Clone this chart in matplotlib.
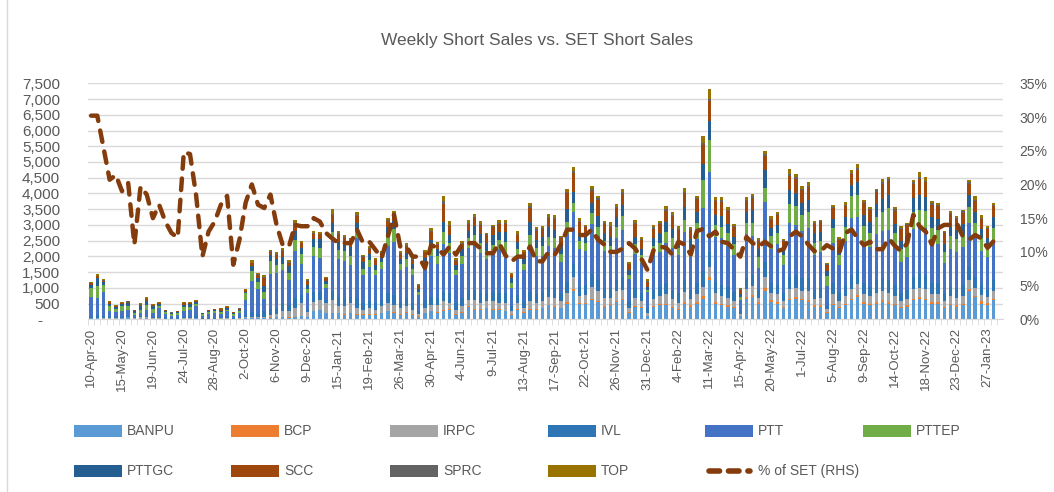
import matplotlib
matplotlib.use("Agg")
import matplotlib.pyplot as plt
import numpy as np
from matplotlib.patches import Rectangle
from matplotlib.lines import Line2D

plt.rcParams['font.family'] = ['Liberation Sans', 'DejaVu Sans']

# x labels shown every 5th week
tick_labels = ['10-Apr-20', '15-May-20', '19-Jun-20', '24-Jul-20', '28-Aug-20', '2-Oct-20',
               '6-Nov-20', '9-Dec-20', '15-Jan-21', '19-Feb-21', '26-Mar-21', '30-Apr-21',
               '4-Jun-21', '9-Jul-21', '13-Aug-21', '17-Sep-21', '22-Oct-21', '26-Nov-21',
               '31-Dec-21', '4-Feb-22', '11-Mar-22', '15-Apr-22', '20-May-22', '1-Jul-22',
               '5-Aug-22', '9-Sep-22', '14-Oct-22', '18-Nov-22', '23-Dec-22', '27-Jan-23']

banpu = [30,30,20,20,20,30,60,20,20,30, 20,20,10,10,10,20,20,30,10,10,
         10,20,20,10,20,30,40,40,30,50, 60,60,50,60,100,60,250,300,200,200,
         200,150,200,150,150,150,150,200,250,200, 150,200,150,80,200,250,200,250,300,150,
         200,400,300,300,350,300,300,250,150,300, 200,300,300,350,450,400,350,500,900,500,
         500,600,550,400,450,550,600,200,400,350, 100,400,450,450,350,300,500,400,500,650,
         1250,500,450,400,350,100,650,700,500,900, 550,500,350,600,650,600,550,400,400,200,
         450,350,450,600,700,500,450,500,550,500, 450,350,400,600,650,600,500,500,350,450,
         400,450,900,700,500,450,600]
bcp = [0,0,0,0,0,0,0,0,0,0, 0,0,0,0,0,0,0,0,0,0,
       0,0,0,0,0,0,0,0,0,10, 10,10,10,10,10,10,10,10,10,10,
       10,10,10,20,10,20,10,10,20,20, 10,20,10,10,10,20,20,30,20,10,
       20,20,20,20,20,20,30,20,10,20, 20,30,20,20,20,30,20,50,50,30,
       30,40,40,30,30,40,40,20,30,30, 10,30,30,40,30,30,60,40,60,80,
       100,50,40,40,30,10,60,60,40,80, 50,50,30,60,50,50,50,40,40,20,
       40,30,40,60,60,50,40,50,60,50, 40,30,40,60,60,50,40,40,30,40,
       40,40,60,50,80,70,50]
irpc = [10,20,20,10,10,10,20,20,40,30, 20,20,10,10,10,20,20,20,10,10,
        15,15,20,10,20,30,40,30,30,80, 100,200,200,300,400,150,300,300,300,400,
        200,250,300,200,150,200,150,200,250,250, 200,200,150,80,150,200,250,300,200,150,
        200,200,300,200,200,250,200,250,100,200, 150,250,200,200,250,250,200,300,400,200,
        250,400,300,250,200,300,300,150,250,200, 100,200,250,300,250,200,300,200,250,300,
        300,300,250,250,200,50,250,300,150,350, 250,250,200,300,300,250,300,200,250,100,
        300,200,250,300,350,250,250,300,300,300, 250,200,200,300,300,300,250,250,200,250,
        250,250,300,250,200,200,250]
ivl = [40,80,60,40,30,40,40,20,40,50, 30,40,20,20,20,40,40,40,20,20,
       30,25,40,20,30,80,150,100,200,200, 200,250,200,300,250,100,300,250,100,300,
       300,250,200,300,200,200,200,200,300,300, 200,250,200,100,250,250,200,300,300,200,
       250,300,300,300,250,300,300,300,150,250, 200,300,300,300,300,300,250,350,400,300,
       300,400,350,300,300,350,400,200,300,250, 150,300,300,350,300,300,400,300,350,500,
       480,350,350,350,300,100,350,350,250,500, 300,300,250,400,400,400,400,300,300,150,
       350,250,350,450,450,350,300,400,400,400, 350,250,300,400,450,450,350,350,250,300,
       300,350,400,350,300,250,350]
ptt = [620,560,760,200,160,190,160,90,100,200, 130,280,120,70,110,170,210,330,80,120,
       150,120,170,80,140,480,1000,800,400,1100, 1100,1050,800,1500,1000,500,1150,1100,400,1600,
       1200,1200,1000,1900,900,1100,900,1000,1500,1700, 1000,1000,900,500,1000,1300,1100,1500,1300,900,
       1100,1350,1450,1300,1100,1200,1400,1300,590,1200, 1000,1400,1200,1150,1300,1300,1000,1500,1650,1200,
       1100,1600,1400,1200,1100,1350,1500,700,1100,950, 500,1100,1100,1300,1350,1200,1500,1050,1400,2000,
       2550,1400,1500,1300,1150,350,1400,1250,700,1900, 1100,1300,900,1700,1600,1500,1600,1100,1150,600,
       1300,900,1400,1800,1700,1300,1250,1450,1500,1600, 1200,1000,1050,1500,1500,1500,1300,1250,950,1200,
       1150,1200,1400,1250,1100,1000,1200]
pttep = [300,380,220,160,100,140,140,60,110,130, 130,60,60,50,50,130,110,80,40,60,
         50,40,60,40,60,200,300,200,200,400, 250,200,220,350,300,150,300,300,100,250,
         300,300,300,250,200,200,150,200,350,400, 200,250,200,100,200,300,250,400,300,150,
         250,300,300,300,250,300,300,350,150,250, 200,400,250,300,300,300,250,400,300,250,
         250,350,300,300,250,350,450,150,300,250, 80,300,300,350,300,250,400,250,500,900,
         1030,400,350,400,350,100,350,400,350,450, 400,350,300,600,600,500,500,400,350,300,
         450,300,450,700,700,500,450,550,600,700, 450,400,400,550,500,550,450,450,350,400,
         400,400,500,450,400,350,450]
pttgc = [90,250,100,60,60,70,90,40,110,140, 80,60,40,40,40,80,80,60,25,40,
         40,40,50,40,40,60,150,150,200,200, 200,200,200,300,200,120,250,300,100,300,
         250,250,300,250,200,200,150,150,250,250, 150,200,150,100,150,200,200,300,250,150,
         200,250,300,300,250,300,250,300,150,250, 200,400,250,300,300,250,250,400,350,250,
         250,300,350,250,300,300,350,150,250,200, 100,250,300,300,300,250,400,300,350,500,
         600,300,350,300,250,80,350,400,250,550, 250,250,200,450,400,400,400,300,300,150,
         300,250,300,350,400,350,350,400,400,400, 300,250,250,450,500,450,350,350,250,300,
         300,350,400,350,300,250,350]
scc = [50,60,50,60,40,40,50,30,50,50, 40,40,20,15,15,50,40,30,15,25,
       30,60,35,20,30,40,100,100,250,100, 120,200,120,200,150,130,150,140,100,250,
       250,170,200,200,170,180,170,150,200,200, 180,200,130,100,170,250,150,600,300,150,
       170,200,250,280,250,250,250,250,110,220, 160,450,300,250,300,350,250,500,600,350,
       250,400,500,300,300,300,350,180,400,280, 150,300,300,350,400,300,450,300,400,600,
       640,450,450,400,300,150,350,400,250,450, 250,300,250,450,450,400,400,300,300,200,
       350,250,350,350,400,400,380,400,500,450, 400,380,350,450,500,450,400,400,350,400,
       350,350,350,350,300,300,350]
sprc = [10,10,10,10,6,5,10,5,10,15, 8,5,5,3,3,10,5,6,2,3,
        3,5,5,4,5,10,20,20,20,20, 20,20,20,30,20,20,30,20,10,50,
        40,20,20,40,20,20,20,20,30,30, 20,30,20,10,20,30,20,80,40,20,
        20,40,40,40,30,30,40,40,10,30, 20,60,40,40,40,40,30,50,50,40,
        30,50,50,30,50,40,50,20,40,30, 20,40,30,50,40,40,50,30,50,60,
        60,50,50,40,40,20,40,50,30,60, 40,40,30,60,60,50,50,30,30,30,
        40,30,50,50,60,40,40,50,60,50, 50,40,30,50,60,50,50,40,30,40,
        40,40,50,40,40,30,40]
top = [40,40,40,30,20,20,20,12,30,50, 25,20,12,10,12,25,20,20,10,12,
       12,20,20,10,15,25,70,47,65,49, 70,72,50,100,70,40,70,60,25,150,
       70,70,60,100,55,70,50,50,80,90, 60,70,50,50,50,90,60,170,100,63,
       64,95,75,72,50,55,85,95,46,73, 50,116,80,64,75,80,45,100,138,110,
       45,108,89,60,100,90,110,55,95,60, 70,85,52,100,80,82,114,70,69,240,
       297,87,97,80,67,28,87,80,70,123, 81,69,49,159,120,98,104,42,45,55,
       41,42,88,98,129,62,58,52,90,64, 78,52,39,79,163,114,80,66,33,50,
       41,53,79,115,80,50,60]

# % of SET short sales (RHS)
pct_set = [30.2,30.2,25.5,20.7,21.4,19.0,20.2,11.1,19.7,18.5, 15.0,17.0,14.5,12.8,12.1,24.8,24.5,18.3,9.3,13.0,
           14.5,17.0,18.3,8.1,11.8,17.3,20.0,17.0,16.5,18.5, 14.0,11.0,10.8,14.0,13.8,13.8,15.0,14.5,12.8,12.0,
           11.3,11.3,11.3,13.3,11.3,11.5,10.3,9.1,12.3,15.5, 10.8,10.8,9.3,9.3,7.6,11.0,10.6,9.6,10.8,9.6,
           11.1,11.3,11.3,10.5,9.8,9.8,11.3,9.5,8.6,9.3, 9.3,10.8,8.6,8.6,10.0,9.6,11.1,13.3,13.3,12.5,
           12.5,13.3,11.8,11.1,10.0,10.0,10.5,11.3,10.5,9.0, 7.3,10.3,10.8,10.6,9.6,11.5,11.1,9.6,13.1,13.4,
           12.3,13.0,11.5,11.3,10.3,9.3,12.2,11.3,10.8,11.5, 10.8,10.1,10.4,12.3,13.0,12.3,11.1,10.1,10.1,11.0,
           10.5,9.8,12.8,13.3,12.0,11.0,11.5,10.4,10.4,12.0, 10.9,10.1,11.3,15.5,13.8,13.0,11.1,13.5,14.0,14.0,
           14.3,12.3,11.8,12.5,12.0,10.6,11.6]

series = [('BANPU', banpu, '#5B9BD5'), ('BCP', bcp, '#ED7D31'), ('IRPC', irpc, '#A5A5A5'),
          ('IVL', ivl, '#2E75B6'), ('PTT', ptt, '#4472C4'), ('PTTEP', pttep, '#70AD47'),
          ('PTTGC', pttgc, '#255E91'), ('SCC', scc, '#9E480E'), ('SPRC', sprc, '#636363'),
          ('TOP', top, '#997300')]
line_col = '#843C0C'
txt_col = '#595959'
grid_col = '#D9D9D9'

W, H = 1054, 492
fig = plt.figure(figsize=(W/100, H/100), dpi=100)
ax = fig.add_axes([88/W, 1-319.3/H, (1003-88)/W, (319.3-83.3)/H])

x = np.arange(len(banpu))
bottom = np.zeros(len(x))
for name, vals, col in series:
    ax.bar(x, vals, 0.55, bottom=bottom, color=col, linewidth=0, zorder=2)
    bottom += np.array(vals)

ax.set_xlim(-0.5, len(x) + 0.5)
ax.set_ylim(0, 7500)
ax.set_yticks(np.arange(0, 7501, 500))
ax.set_yticklabels(['-    ' if v == 0 else f'{v:,}' for v in range(0, 7501, 500)])
ax.grid(axis='y', color=grid_col, linewidth=1, zorder=0)
ax.set_axisbelow(True)
ax.set_xticks(np.arange(0, len(x), 5))
ax.set_xticklabels(tick_labels, rotation=90)
ax.set_xticks(np.arange(-0.5, len(x) + 0.5, 1), minor=True)
ax.tick_params(axis='x', which='major', length=0, pad=6, labelsize=9.5, labelcolor=txt_col)
ax.tick_params(axis='x', which='minor', length=4, color=grid_col)
ax.tick_params(axis='y', length=0, labelsize=11, labelcolor=txt_col, pad=20)
for s in ['top', 'left', 'right']:
    ax.spines[s].set_visible(False)
ax.spines['bottom'].set_color(grid_col)

ax2 = ax.twinx()
ax2.plot(x, pct_set, color=line_col, linewidth=3.2, linestyle=(0, (2.6, 2.2)),
         dash_capstyle='round', zorder=3)
ax2.set_ylim(0, 35)
ax2.set_yticks(np.arange(0, 36, 5))
ax2.set_yticklabels([f'{v}%' for v in range(0, 36, 5)])
ax2.tick_params(axis='y', length=0, labelsize=10, labelcolor=txt_col, pad=12)
for s in ['top', 'left', 'right', 'bottom']:
    ax2.spines[s].set_visible(False)

fig.text(537/W, 1-40/H, 'Weekly Short Sales vs. SET Short Sales', ha='center', va='center',
         fontsize=12.5, color=txt_col)

# legend, laid out in two rows like the original
rows = [431, 471]
cols = [74, 231, 390, 548, 705, 863]
entries = [(n, c) for n, _, c in series] + [('% of SET (RHS)', None)]
for k, (name, col) in enumerate(entries):
    lx = cols[k % 6]
    ly = rows[k // 6]
    if col is not None:
        fig.patches.append(Rectangle((lx/W, 1-(ly+6)/H), 48/W, 12/H, transform=fig.transFigure,
                                     facecolor=col, edgecolor='none'))
    else:
        fig.lines.append(Line2D([(lx+4)/W, (lx+45)/W], [1-ly/H, 1-ly/H], transform=fig.transFigure,
                                color=line_col, linewidth=4, linestyle=(0, (1.9, 1.6)),
                                dash_capstyle='round'))
    fig.text((lx+53)/W, 1-ly/H, name, ha='left', va='center', fontsize=10, color=txt_col)

fig.lines.append(Line2D([7/W, 7/W], [0, 1], transform=fig.transFigure, color=grid_col, linewidth=1))

fig.savefig('out.png', dpi=100)
